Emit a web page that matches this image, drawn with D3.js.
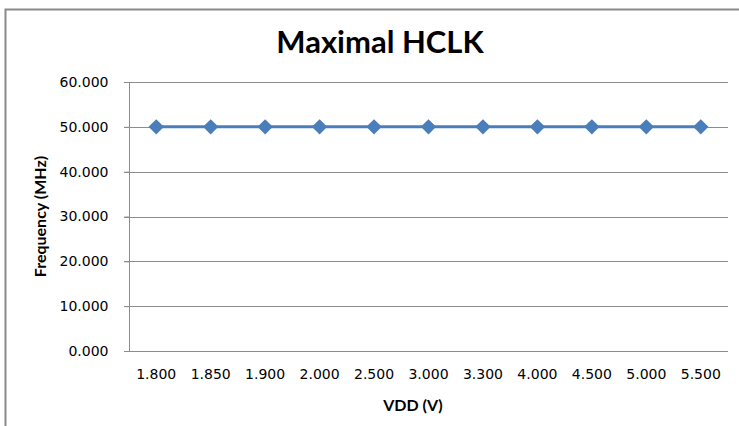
<!DOCTYPE html>
<html>
<head>
<meta charset="utf-8">
<script src="https://cdn.jsdelivr.net/npm/d3@7"></script>
<style>
  body { margin: 0; background: #fff; }
</style>
</head>
<body>
<script>
    let vdd = ["1.800", "1.850", "1.900", "2.000", "2.500", "3.000", "3.300", "4.000", "4.500", "5.000", "5.500"];
    let freq = [50, 50, 50, 50, 50, 50, 50, 50, 50, 50, 50];
    let yTicks = [0, 10, 20, 30, 40, 50, 60];

    let width = 739, height = 426;
    let plot = {"left": 129, "right": 728, "top": 82, "bottom": 351};

    const svg = d3.select("body")
      .append("svg")
      .attr("width", width)
      .attr("height", height);

    // chart frame (only left and top edges show in the picture)
    svg.append("path")
      .attr("d", "M5.5," + height + "V9.5H" + width)
      .attr("fill", "none")
      .attr("stroke", "#8a8a8a")
      .attr("stroke-width", 2);

    svg.append("text")
      .text("Maximal HCLK")
      .attr("x", 380)
      .attr("y", 53)
      .attr("text-anchor", "middle")
      .style("font-family", "Lato")
      .style("font-weight", "bold")
      .style("font-size", "31px")
      .attr("fill", "#000");

    let xscale = d3.scaleBand()
      .domain(vdd)
      .range([plot.left, plot.right]);

    let yscale = d3.scaleLinear()
      .domain([0, 60])
      .range([plot.bottom, plot.top]);

    // gridlines
    svg.append("g")
      .selectAll("line")
      .data(yTicks)
      .enter()
      .append("line")
      .attr("x1", plot.left - 5)
      .attr("x2", plot.right)
      .attr("y1", (d) => Math.round(yscale(d)) + 0.5)
      .attr("y2", (d) => Math.round(yscale(d)) + 0.5)
      .attr("stroke", "#8c8c8c")
      .attr("stroke-width", 1);

    let y_axis = d3.axisLeft()
      .scale(yscale)
      .tickValues(yTicks)
      .tickFormat(d3.format(".3f"))
      .tickSize(5)
      .tickPadding(16);

    let gy = svg.append("g")
      .attr("transform", "translate(" + (plot.left + 0.5) + ",0)")
      .call(y_axis);
    gy.select(".domain").attr("stroke", "#8c8c8c").attr("d", "M0," + plot.top + "V" + plot.bottom);
    gy.selectAll(".tick line").attr("stroke", "#8c8c8c");
    gy.selectAll(".tick text")
      .style("font-family", "DejaVu Sans")
      .style("font-size", "14px")
      .attr("fill", "#000");

    let x_axis = d3.axisBottom()
      .scale(xscale)
      .tickSize(0)
      .tickPadding(18);

    let gx = svg.append("g")
      .attr("transform", "translate(0," + plot.bottom + ")")
      .call(x_axis);
    gx.select(".domain").remove();
    gx.selectAll(".tick text")
      .style("font-family", "DejaVu Sans")
      .style("font-size", "14px")
      .attr("fill", "#000");

    svg.append("text")
      .text("VDD (V)")
      .attr("x", 413)
      .attr("y", 411)
      .attr("text-anchor", "middle")
      .style("font-family", "Lato")
      .style("font-weight", "bold")
      .style("font-size", "16px")
      .attr("fill", "#000");

    svg.append("text")
      .text("Frequency (MHz)")
      .attr("text-anchor", "middle")
      .style("font-family", "Lato")
      .style("font-weight", "bold")
      .style("font-size", "16px")
      .attr("fill", "#000")
      .attr("transform", "translate(46," + ((plot.top + plot.bottom) / 2) + ") rotate(-90)");

    let line = d3.line()
      .x((d, i) => xscale(vdd[i]) + xscale.bandwidth() / 2)
      .y((d) => yscale(d));

    svg.append("path")
      .datum(freq)
      .attr("d", line)
      .attr("fill", "none")
      .attr("stroke", "#4a7ebb")
      .attr("stroke-width", 3);

    svg.append("g")
      .selectAll("path")
      .data(freq)
      .enter()
      .append("path")
      .attr("d", d3.symbol(d3.symbolSquare, 118))
      .attr("transform", (d, i) => "translate(" + (xscale(vdd[i]) + xscale.bandwidth() / 2) + "," + yscale(d) + ") rotate(45)")
      .attr("fill", "#4a7ebb");
</script>
</body>
</html>
